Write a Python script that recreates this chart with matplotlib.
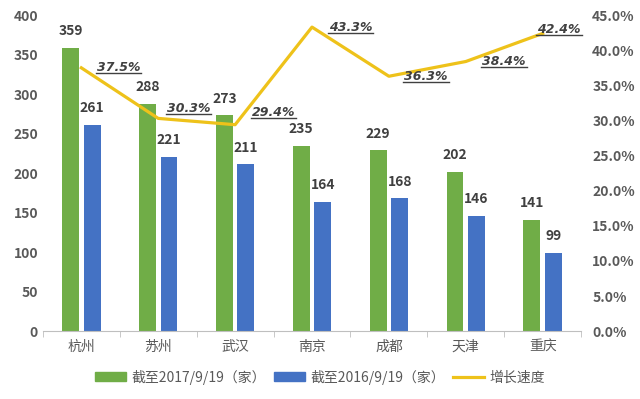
import matplotlib.pyplot as plt
from matplotlib.patches import Patch
from matplotlib.lines import Line2D
import numpy as np

plt.rcParams['font.family'] = ['Noto Sans CJK SC', 'DejaVu Sans']

cities = ['杭州', '苏州', '武汉', '南京', '成都', '天津', '重庆']
y2017 = [359, 288, 273, 235, 229, 202, 141]
y2016 = [261, 221, 211, 164, 168, 146, 99]
growth = [37.5, 30.3, 29.4, 43.3, 36.3, 38.4, 42.4]
# label offsets (points) for growth labels
lab_dx = [11, 6, 12, 12, 11, 12, -4]
lab_dy = [0, 7, 9, 0, 0, 0, 3]

green = '#70AD47'
blue = '#4472C4'
gold = '#EEC21A'
txt = '#404040'

fig = plt.figure(figsize=(6.4, 3.99), dpi=100)
ax = fig.add_axes([0.067, 0.170, 0.841, 0.792])
ax2 = ax.twinx()

x = np.arange(len(cities))
w = 0.22
b1 = ax.bar(x - 0.14, y2017, w, color=green, zorder=2)
b2 = ax.bar(x + 0.14, y2016, w, color=blue, zorder=2)
for bars in (b1, b2):
    for r in bars:
        ax.annotate(str(int(r.get_height())), (r.get_x() + r.get_width() / 2, r.get_height()),
                    xytext=(0, 7), textcoords='offset points', ha='center', va='bottom',
                    fontsize=10, fontweight='bold', color=txt)

ax.set_xlim(-0.5, len(cities) - 0.5)
ax.set_ylim(0, 400)
ax.set_yticks(range(0, 401, 50))
ax.set_xticks(x)
ax.set_xticklabels(cities, fontsize=10, color='#595959')
ax.set_xticks(np.arange(-0.5, len(cities)), minor=True)
ax.tick_params(axis='x', which='major', length=0, pad=6)
ax.tick_params(axis='x', which='minor', length=4, color='#BFBFBF')
ax.tick_params(axis='y', length=0, labelsize=10, labelcolor='#595959')
for t in ax.get_yticklabels():
    t.set_fontweight('bold')
for s in ['top', 'left', 'right']:
    ax.spines[s].set_visible(False)
ax.spines['bottom'].set_color('#BFBFBF')

ax2.plot(x, growth, color=gold, lw=2.3, zorder=3)
ax2.set_ylim(0, 45)
ax2.set_yticks(np.arange(0, 46, 5))
ax2.set_yticklabels([f'{v:.1f}%' for v in np.arange(0, 46, 5)])
ax2.tick_params(axis='y', length=0, labelsize=10, labelcolor='#595959', pad=8)
for t in ax2.get_yticklabels():
    t.set_fontweight('bold')
for s in ['top', 'left', 'right', 'bottom']:
    ax2.spines[s].set_visible(False)

labels = []
for i, g in enumerate(growth):
    t = ax2.annotate(f'{g:.1f}%', (x[i], g), xytext=(lab_dx[i], lab_dy[i]),
                     textcoords='offset points', ha='left', va='center',
                     fontsize=9, fontweight='bold', fontstyle='italic', color=txt,
                     family=['DejaVu Sans'])
    labels.append(t)

handles = [Patch(color=green), Patch(color=blue), Line2D([], [], color=gold, lw=2.3)]
fig.legend(handles, ['截至2017/9/19（家）', '截至2016/9/19（家）', '增长速度'],
           loc='center', bbox_to_anchor=(0.5, 0.055), ncol=3, frameon=False,
           fontsize=10, labelcolor='#595959', handlelength=2.2, handleheight=0.6,
           columnspacing=0.6, handletextpad=0.4)

fig.canvas.draw()
inv = fig.transFigure.inverted()
for t in labels:
    bb = t.get_window_extent()
    (x0, y0), (x1, _) = inv.transform([(bb.x0 - 1, bb.y0 + 1), (bb.x1 + 1, bb.y0 + 1)])
    fig.add_artist(Line2D([x0, x1], [y0, y0], color=txt, lw=1.0))

fig.savefig('out.png', dpi=100)
